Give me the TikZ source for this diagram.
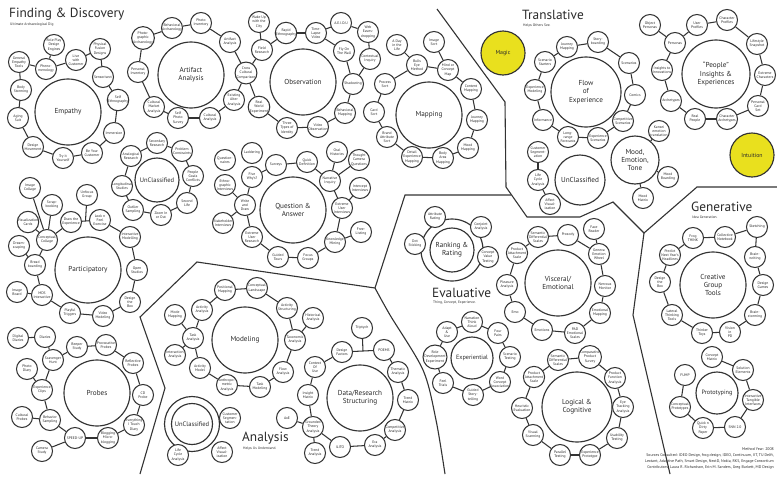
\documentclass[tikz,border=0pt]{standalone}
\usepackage{fontspec}
\setmainfont{PT Sans}
\usetikzlibrary{calc}
\definecolor{lc}{HTML}{333333}
\definecolor{tx}{HTML}{2A2A2A}
\definecolor{yel}{HTML}{E9E01E}
\tikzset{
  sat/.style={circle,draw=lc,line width=1.05pt,fill=white,minimum size=21pt,inner sep=0pt,align=center,text=tx,font=\fontsize{3.7}{4.1}\selectfont},
  big/.style={circle,draw=lc,line width=1.15pt,fill=white,minimum size=#1,inner sep=0pt,align=center,text=tx,font=\fontsize{7.2}{8.2}\selectfont},
  big/.default=66pt,
  conn/.style={draw=lc,line width=1.05pt},
  region/.style={draw=lc,line width=1.1pt},
  ttl/.style={anchor=west,text=tx,inner sep=0pt,font=\fontsize{13.3}{13}\selectfont},
  sub/.style={anchor=west,text=tx,inner sep=0pt,font=\fontsize{3.6}{4}\selectfont}
}
\newcommand{\sn}[4]{\node[sat] (#1) at (#2,#3) {#4};}
\newcommand{\links}[1]{\foreach \a/\b in {#1} \draw[conn] (\a) -- (\b);}
\begin{document}
\begin{tikzpicture}[x=1pt,y=-1pt]
\useasboundingbox[fill=white] (0,0) rectangle (777,477);

% ---------- region boundaries ----------
\draw[region] (437,9) -- (505,102) -- (506,187) -- (527,217) -- (580,217) -- (613,202) -- (644,233) -- (697,187) -- (777,187);
\draw[region] (644,233) -- (633,315) -- (670,474);
\draw[region] (140,474) -- (165,388) -- (140,317) -- (197,262) -- (375,288) -- (405,195) -- (511,195);
\draw[region] plot[smooth] coordinates {(375,288) (390,315) (423,370) (436,420) (445,474)};

% ---------- titles ----------
\node[ttl] (tFD) at (9,14) {Finding \& Discovery};
\node[sub] (sFD) at (10,25) {Ultimate Archaeological Dig};
\node[ttl] (tTR) at (522,15) {Translative};
\node[sub] (sTR) at (523,26) {Helps Others See.};
\node[ttl] (tEV) at (432,293) {Evaluative};
\node[sub] (sEV) at (433,303) {Thing, Concept, Experience.};
\node[ttl] (tAN) at (242,438) {Analysis};
\node[sub] (sAN) at (243,449) {Helps Us Understand.};
\node[ttl] (tGE) at (691,207) {Generative};
\node[sub] (sGE) at (692,217) {Idea Generation.};

% ---------- Empathy ----------
\node[big] (em) at (68,112) {Empathy};
\sn{em1}{19}{62}{General\\Empathy\\Tools}
\sn{em2}{54}{45}{Role Play\\Design\\Engines}
\sn{em3}{46}{69}{Pheno-\\menology}
\sn{em4}{76}{60}{Live\\with\\Customer}
\sn{em5}{100}{49}{Physical\\Fusion\\Designs}
\sn{em6}{103}{77}{Sensorisect}
\sn{em7}{118}{100}{Self\\Ethnography}
\sn{em8}{114}{133}{Immersion}
\sn{em9}{92}{153}{Be Your\\Customer}
\sn{em10}{63}{158}{Try it\\Yourself}
\sn{em11}{33}{147}{Design\\Movement}
\sn{em12}{18}{118}{Aging\\Suit}
\sn{em13}{21}{90}{Body\\Storming}
\links{em13/em1,em1/em3,em2/em3,em3/em4,em4/em5,em5/em6,em6/em7,em7/em8,em8/em9,em9/em10,em10/em11,em11/em12,em12/em13}

% ---------- Artifact Analysis ----------
\node[big] (ar) at (191,75) {Artifact\\Analysis};
\sn{ar1}{143}{38}{Photo-\\graphic\\Archaeology}
\sn{ar2}{172}{28}{Behavioral\\Archaeology}
\sn{ar3}{201}{23}{Photo\\Inventory}
\sn{ar4}{230}{42}{Artifact\\Analysis}
\sn{ar5}{246}{73}{Cross\\Cultural\\Comparison}
\sn{ar6}{234}{100}{Existing\\Alter\\Analysis}
\sn{ar7}{210}{118}{Cultural\\Analysis}
\sn{ar8}{178}{118}{Self\\Photo\\Survey}
\sn{ar9}{154}{107}{Cultural\\Market\\Analysis}
\sn{ar10}{138}{72}{Personal\\Inventory}
\links{ar1/ar2,ar2/ar3,ar3/ar4,ar4/ar5,ar5/ar6,ar6/ar7,ar7/ar8,ar8/ar9,ar9/ar10,ar10/ar1}

% ---------- Observation ----------
\node[big] (ob) at (303,82) {Observation};
\sn{ob1}{259}{22}{Wake Up\\with the\\City}
\sn{ob2}{262}{50}{Field\\Research}
\sn{ob3}{286}{33}{Rapid\\Ethnography}
\sn{ob4}{316}{33}{Time-\\Lapse\\Video}
\sn{ob5}{341}{23}{A.E.I.O.U}
\sn{ob6}{368}{32}{Web\\Eaves-\\dropping}
\sn{ob7}{344}{51}{Fly On\\The Wall}
\sn{ob8}{370}{59}{Contextual\\Inquiry}
\sn{ob9}{353}{84}{Shadowing}
\sn{ob10}{345}{113}{Behavioral\\Mapping}
\sn{ob11}{318}{127}{Video\\Observation}
\sn{ob12}{287}{128}{Three\\Types of\\Identity}
\sn{ob13}{259}{107}{Real\\World\\Experiment}
\links{ob1/ob2,ob2/ob3,ob3/ob4,ob4/ob5,ob5/ob6,ob4/ob7,ob6/ob8,ob7/ob9,ob8/ob9,ob9/ob10,ob10/ob11,ob11/ob12,ob12/ob13,ob13/ar5,ar5/ob2}

% ---------- Mapping ----------
\node[big] (mp) at (429,115) {Mapping};
\sn{mp1}{397}{45}{A Day\\in the\\Life}
\sn{mp2}{434}{42}{Image\\Sort}
\sn{mp3}{417}{65}{Bulls\\Eye\\Method}
\sn{mp4}{448}{70}{Mind or\\Concept\\Map}
\sn{mp5}{471}{89}{Content\\Mapping}
\sn{mp6}{477}{120}{Journey\\Mapping}
\sn{mp7}{468}{148}{Mood\\Mapping}
\sn{mp8}{443}{158}{Body\\Area\\Mapping}
\sn{mp9}{412}{157}{Detail\\Experience\\Mapping}
\sn{mp10}{387}{137}{Brand\\Attribute\\Sort}
\sn{mp11}{374}{112}{Card\\Sort}
\sn{mp12}{385}{84}{Process\\Sort}
\links{mp12/mp3,mp1/mp3,mp2/mp4,mp3/mp4,mp4/mp5,mp5/mp6,mp6/mp7,mp7/mp8,mp8/mp9,mp9/mp10,mp10/mp11,mp11/mp12}

% ---------- Question & Answer ----------
\node[big] (qa) at (293,210) {Question \&\\Answer};
\sn{qa1}{225}{160}{Question-\\naires}
\sn{qa2}{252}{153}{Laddering}
\sn{qa3}{276}{165}{Surveys}
\sn{qa4}{307}{162}{Quick\\Definition}
\sn{qa5}{337}{152}{Oral\\Histories}
\sn{qa6}{359}{160}{Thought\\Camera\\Questions}
\sn{qa7}{330}{181}{Narrative\\Inquiry}
\sn{qa8}{360}{188}{Intercept\\Interviews}
\sn{qa9}{342}{208}{Extreme\\User\\Interviews}
\sn{qa10}{361}{232}{Free-\\Listing}
\sn{qa11}{335}{242}{Knowledge\\Mining}
\sn{qa12}{308}{258}{Focus\\Groups}
\sn{qa13}{278}{257}{Guided\\Tours}
\sn{qa14}{252}{237}{Extreme\\User\\Research}
\sn{qa15}{223}{223}{Stakeholder\\Interviews}
\sn{qa16}{245}{205}{Write\\and\\Draw}
\sn{qa17}{225}{185}{Ethno-\\graphic\\Interviews}
\sn{qa18}{252}{177}{Five\\Why's?}
\links{qa16/qa18,qa18/qa3,qa3/qa4,qa4/qa7,qa5/qa7,qa6/qa7,qa7/qa9,qa8/qa9,qa9/qa11,qa10/qa11,qa11/qa12,qa12/qa13,qa13/qa14,qa14/qa16,qa15/qa16,qa17/qa16}

% ---------- UnClassified (Finding) ----------
\node[big=44pt,font=\fontsize{6.5}{7}\selectfont] (un) at (157,180) {UnClassified};
\sn{un1}{157}{143}{Secondary\\Research}
\sn{un2}{182}{151}{Problem\\Constraints}
\sn{un3}{193}{176}{People\\Goals\\Conflicts}
\sn{un4}{187}{203}{Second\\Life}
\sn{un5}{161}{215}{Zoom In\\or Out}
\sn{un6}{133}{210}{Outlier\\Sampling}
\sn{un7}{122}{186}{Longitudinal\\Studies}
\sn{un8}{131}{156}{Analogical\\Research}
\links{un1/un2,un2/un3,un3/un4,un4/un5,un5/un6,un6/un7,un7/un8,un8/un1}

% ---------- Participatory ----------
\node[big] (pa) at (88,270) {Participatory};
\sn{pa1}{30}{188}{Image\\Collage}
\sn{pa2}{52}{205}{Scrap-\\booking}
\sn{pa3}{87}{195}{Unfocus\\Group}
\sn{pa4}{71}{222}{Draw the\\Experience}
\sn{pa5}{100}{220}{Look n\\Feel\\Exercise}
\sn{pa6}{130}{237}{Interactive\\Modelling}
\sn{pa7}{137}{270}{Open\\Studios}
\sn{pa8}{130}{302}{Design\\the\\Box}
\sn{pa9}{103}{316}{Video\\Modeling}
\sn{pa10}{70}{313}{Playful\\Triggers}
\sn{pa11}{42}{295}{MDS\\Interactive}
\sn{pa12}{35}{265}{Bread\\boarding}
\sn{pa13}{47}{240}{Conceptual\\Collage}
\sn{pa14}{28}{222}{Visualization\\Cards}
\sn{pa15}{19}{246}{Dream-\\scaping}
\sn{pa16}{17}{292}{Image\\Board}
\coordinate (pj) at ($(pa4)!0.5!(pa5)$);
\links{pa4/pa5,pa5/pa6,pa6/pa7,pa7/pa8,pa8/pa9,pa9/pa10,pa10/pa11,pa11/pa12,pa12/pa13,pa13/pa4,pa1/pa13,pa2/pa13,pa14/pa13,pa15/pa12,pa16/pa11,pa3/pj}

% ---------- Probes ----------
\node[big] (pr) at (97,393) {Probes};
\sn{pr1}{18}{338}{Digital\\Diaries}
\sn{pr2}{45}{337}{Diaries}
\sn{pr3}{77}{347}{Beeper\\Study}
\sn{pr4}{106}{345}{Provocative\\Probes}
\sn{pr5}{133}{363}{Reflective\\Probes}
\sn{pr6}{143}{395}{CD\\Probe}
\sn{pr7}{134}{425}{Everything\\I Touch\\Diary}
\sn{pr8}{108}{438}{Blogging\\Micro-\\blogging}
\sn{pr9}{75}{438}{SPEED-UP}
\sn{pr10}{50}{420}{Behavior\\Sampling}
\sn{pr11}{42}{390}{Experience\\Clips}
\sn{pr12}{53}{360}{Scavenger\\Hunt}
\sn{pr13}{27}{369}{Photo\\Diary}
\sn{pr14}{22}{417}{Cultural\\Probes}
\sn{pr15}{42}{451}{Camera\\Study}
\links{pr1/pr2,pr2/pr12,pr12/pr3,pr3/pr4,pr4/pr5,pr5/pr6,pr6/pr7,pr7/pr8,pr8/pr9,pr9/pr10,pr10/pr11,pr11/pr12,pr13/pr11,pr14/pr10,pr15/pr9}

% ---------- Modeling ----------
\node[big] (mo) at (245,340) {Modeling};
\sn{mo1}{175}{315}{Mode\\Mapping}
\sn{mo2}{202}{310}{Activity\\Analysis}
\sn{mo3}{225}{290}{Positional\\Mapping}
\sn{mo4}{257}{288}{Conceptual\\Landscape}
\sn{mo5}{287}{308}{Activity\\Structuring}
\sn{mo6}{313}{318}{Historical\\Analysis}
\sn{mo7}{295}{340}{Taxonomic\\Analysis}
\sn{mo8}{283}{372}{Flow\\Analysis}
\sn{mo9}{260}{387}{Task\\Modeling}
\sn{mo10}{227}{385}{Anthropo-\\metric\\Analysis}
\sn{mo11}{200}{368}{Activity\\Model}
\sn{mo12}{175}{355}{Interaction\\Analysis}
\sn{mo13}{193}{338}{Task\\Analysis}
\links{mo2/mo3,mo3/mo4,mo4/mo5,mo5/mo7,mo6/mo7,mo7/mo8,mo8/mo9,mo9/mo10,mo10/mo11,mo11/mo13,mo13/mo2,mo1/mo13,mo12/mo13}

% ---------- UnClassified (Analysis) ----------
\node[circle,draw=lc,line width=1.15pt,minimum size=55pt] (uaring) at (192,424) {};
\node[big=41pt,font=\fontsize{6.5}{7}\selectfont] (ua) at (192,424) {UnClassified};
\sn{ua1}{230}{418}{Customer\\Segmen-\\tation}
\sn{ua2}{222}{452}{Affect\\Visual-\\ization}
\sn{ua3}{178}{455}{Life\\Cycle\\Analysis}

% ---------- Data/Research Structuring ----------
\node[big] (dr) at (360,398) {Data/Research\\Structuring};
\sn{dr1}{362}{328}{Triptych}
\sn{dr2}{342}{352}{Design\\Factors}
\sn{dr3}{384}{350}{POEMS}
\sn{dr4}{398}{372}{Thematic\\Analysis}
\sn{dr5}{408}{400}{Trend\\Matrix}
\sn{dr6}{395}{430}{Competitive\\Analysis}
\sn{dr7}{375}{445}{Era\\Analysis}
\sn{dr8}{340}{447}{ILITO}
\sn{dr9}{313}{427}{Grounded\\Theory\\Analysis}
\sn{dr10}{308}{395}{Insight\\Matrix}
\sn{dr11}{315}{367}{Context\\Of\\Use}
\sn{dr12}{287}{418}{AxE}
\sn{dr13}{315}{453}{Trend\\Analysis}
\coordinate (dj) at ($(dr2)!0.5!(dr3)$);
\links{dr2/dr3,dr3/dr4,dr4/dr5,dr5/dr6,dr6/dr7,dr7/dr8,dr8/dr9,dr9/dr10,dr10/dr11,dr11/dr2,dr12/dr9,dr13/dr9,dr1/dj}

% ---------- Translative ----------
\node[circle,draw=lc,line width=1.15pt,fill=yel,minimum size=44pt,inner sep=0pt,text=tx,font=\fontsize{5.8}{6}\selectfont] (magic) at (503,53) {Magic};
\node[big=70pt] (fl) at (586,92) {Flow\\of\\Experience};
\sn{fl1}{545}{62}{Scenario\\Starters}
\sn{fl2}{567}{47}{Journey\\Mapping}
\sn{fl3}{598}{42}{Story-\\boarding}
\sn{fl4}{629}{63}{Scenarios}
\sn{fl5}{635}{95}{Comics}
\sn{fl6}{623}{121}{Competitive\\Scenarios}
\sn{fl7}{598}{138}{Experience\\Scenarios}
\sn{fl8}{568}{137}{Long-\\range\\Forecasts}
\sn{fl9}{543}{120}{Informance}
\sn{fl10}{535}{90}{Experience\\Modeling}
\links{fl1/fl2,fl2/fl3,fl3/fl4,fl4/fl5,fl5/fl6,fl6/fl7,fl7/fl8,fl8/fl9,fl9/fl10,fl10/fl1}

\node[big=68pt] (pe) at (716,74) {``People''\\Insights \&\\Experiences};
\sn{pe1}{650}{25}{Object\\Personas}
\sn{pe2}{697}{25}{User\\Profiles}
\sn{pe3}{727}{20}{Character\\Profiles}
\sn{pe4}{757}{44}{Lifestyle\\Snapshot}
\sn{pe5}{765}{75}{Extreme\\Characters}
\sn{pe6}{758}{106}{Personal\\Card\\Set}
\sn{pe7}{727}{119}{Character\\Archetypes}
\sn{pe8}{695}{119}{Real\\People}
\sn{pe9}{671}{101}{Archetypes}
\sn{pe10}{662}{70}{Insights to\\Innovations}
\sn{pe11}{675}{43}{Personas}
\links{pe11/pe2,pe2/pe3,pe3/pe4,pe4/pe5,pe5/pe6,pe6/pe7,pe7/pe8,pe8/pe9,pe9/pe10,pe10/pe11,pe1/pe11}

\node[circle,draw=lc,line width=1.15pt,fill=yel,minimum size=44pt,inner sep=0pt,text=tx,font=\fontsize{5.8}{6}\selectfont] (intu) at (752,155) {Intuition};

\node[big=48pt] (md) at (635,160) {Mood,\\Emotion,\\Tone};
\sn{md1}{659}{131}{Kansei\\emotion\\translation}
\sn{md2}{668}{177}{Mood\\Boarding}
\sn{md3}{643}{198}{Mood\\Matrix}
\links{md1/md,md2/md,md3/md}

\node[big=50pt] (tu) at (580,180) {UnClassified};
\sn{tu1}{538}{152}{Customer\\Segment-\\ation}
\sn{tu2}{538}{180}{Life\\Cycle\\Analysis}
\sn{tu3}{550}{204}{Affect\\Visual-\\ization}
\links{tu1/tu2,tu2/tu3}

% ---------- Evaluative ----------
\node[circle,draw=lc,line width=1.15pt,minimum size=62pt] (rrring) at (452,250) {};
\node[big=44pt] (rr) at (452,250) {Ranking \&\\Rating};
\sn{rr1}{435}{217}{Attribute\\Rating}
\sn{rr2}{481}{227}{Conjoint\\Analysis}
\sn{rr3}{488}{257}{Concept\\Value\\Testing}
\sn{rr4}{415}{244}{Dot\\Sticking}

\node[big] (ve) at (558,283) {Visceral/\\Emotional};
\sn{ve1}{517}{253}{Product\\Attachment\\Scale}
\sn{ve2}{538}{237}{Semantic\\Differential\\Scales}
\sn{ve3}{568}{235}{Prosody}
\sn{ve4}{594}{229}{Face\\Reader}
\sn{ve5}{599}{254}{Geneva\\Emotion\\Wheel}
\sn{ve6}{605}{286}{Nervous\\Monitor}
\sn{ve7}{600}{313}{Emotional\\Mapping}
\sn{ve8}{575}{333}{PAD\\Emotional\\Scales}
\sn{ve9}{542}{330}{Emotions}
\sn{ve10}{515}{312}{Emo}
\sn{ve11}{507}{285}{Pleasure\\Analysis}
\links{ve1/ve2,ve2/ve3,ve3/ve5,ve4/ve5,ve5/ve6,ve6/ve7,ve7/ve8,ve8/ve9,ve9/ve10,ve10/ve11,ve11/ve1}

\node[big=42pt,font=\fontsize{6.2}{7}\selectfont] (ex) at (472,358) {Experiential};
\sn{ex1}{447}{332}{Adapt\\\&\\Use}
\sn{ex2}{472}{322}{Narration\\Think\\Aloud}
\sn{ex3}{498}{333}{Four\\Pairs}
\sn{ex4}{510}{357}{Scenario\\Testing}
\sn{ex5}{500}{382}{Word\\Concept\\Association}
\sn{ex6}{473}{395}{Guided\\Story-\\telling}
\sn{ex7}{443}{383}{Feel\\Trials}
\sn{ex8}{435}{357}{Role\\Development\\Experiment}
\links{ex1/ex2,ex2/ex3,ex3/ex4,ex4/ex5,ex5/ex6,ex6/ex7,ex7/ex8,ex8/ex1}

\node[big=70pt] (lc) at (577,407) {Logical \&\\Cognitive};
\sn{lc1}{558}{360}{Semantic\\Differential\\Scales}
\sn{lc2}{590}{357}{Comparative\\Product\\Survey}
\sn{lc3}{615}{378}{Product\\Function\\Analysis}
\sn{lc4}{623}{407}{Eye\\Tracking\\Analysis}
\sn{lc5}{617}{438}{Usability\\Testing}
\sn{lc6}{590}{455}{Experience\\Prototype}
\sn{lc7}{560}{455}{Parallel\\Testing}
\sn{lc8}{533}{435}{Visual\\Scanning}
\sn{lc9}{522}{408}{Heuristic\\Evaluation}
\sn{lc10}{534}{377}{Product\\Attachment\\Scale}
\links{lc1/lc2,lc2/lc3,lc3/lc4,lc4/lc5,lc5/lc6,lc6/lc7,lc7/lc8,lc8/lc9,lc9/lc10,lc10/lc1}

% ---------- Generative ----------
\node[big] (cg) at (713,285) {Creative\\Group\\Tools};
\sn{cg1}{693}{238}{Frog\\THINK}
\sn{cg2}{725}{237}{Collective\\Notebook}
\sn{cg3}{757}{227}{Sketching}
\sn{cg4}{755}{257}{Brain-\\writing}
\sn{cg5}{763}{285}{Design\\Games}
\sn{cg6}{755}{315}{Brain-\\storming}
\sn{cg7}{730}{332}{Vision\\in\\PD}
\sn{cg8}{702}{333}{Thinker\\Toys}
\sn{cg9}{672}{315}{Lateral\\Thinking\\Tools}
\sn{cg10}{660}{282}{Design\\the\\Box}
\sn{cg11}{670}{255}{Predict\\Next Year's\\Headlines}
\links{cg1/cg2,cg2/cg3,cg3/cg4,cg4/cg5,cg5/cg6,cg6/cg7,cg7/cg8,cg8/cg9,cg9/cg10,cg10/cg11,cg11/cg1}

\node[big=42pt,font=\fontsize{6.2}{7}\selectfont] (pt) at (717,393) {Prototyping};
\sn{pt1}{712}{357}{Concept\\Matrix}
\sn{pt2}{743}{370}{Solution\\Elements}
\sn{pt3}{753}{400}{Interactive\\Tangible\\Interfaces}
\sn{pt4}{735}{427}{SNN 2.0}
\sn{pt5}{703}{428}{Quick n\\Dirty\\Paper}
\sn{pt6}{680}{407}{Conceptual\\Prototypes}
\sn{pt7}{685}{375}{FUMP}
\links{pt1/pt2,pt2/pt3,pt3/pt4,pt4/pt5,pt5/pt6,pt6/pt7}

% ---------- footer ----------
\node[anchor=north east,align=right,inner sep=0pt,text=tx,font=\fontsize{3.9}{5.8}\selectfont] (foot) at (774,448) {Method Year: 2008\\Sources Consulted: IDEO Design, frog design, IDEO, Continuum, IIT, TU Delft,\\Lextant, Adaptive Path, Smart Design, NextD, Nokia, RKS, Engage Consortium\\Contributors: Laura R. Richardson, Erin M. Sanders, Greg Burkett, MD Design};
\end{tikzpicture}
\end{document}
